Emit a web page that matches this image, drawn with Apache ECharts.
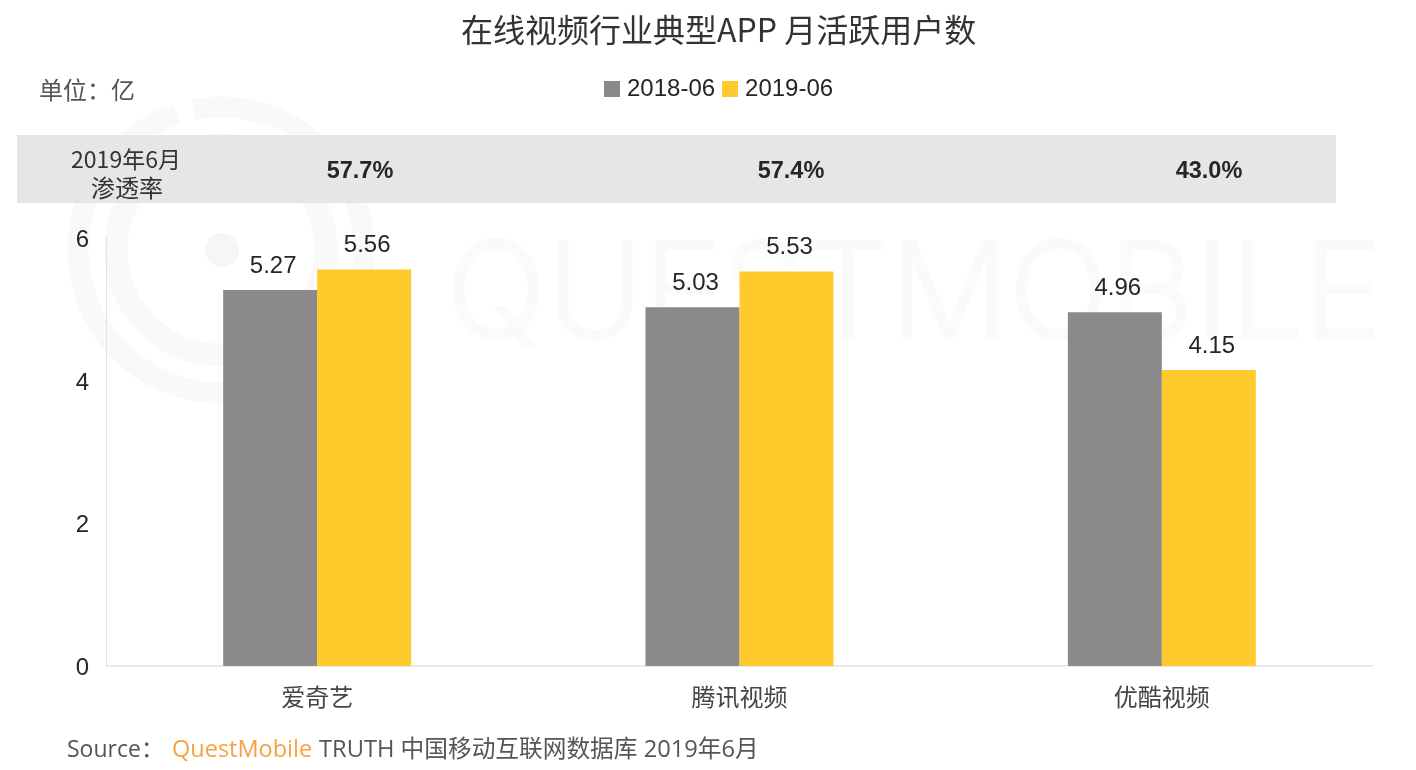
<!DOCTYPE html>
<html>
<head>
    <meta charset="utf-8">
    <title>在线视频行业典型APP 月活跃用户数</title>
    <script src="https://cdn.jsdelivr.net/npm/echarts@6/dist/echarts.min.js"></script>
    <style>
        html, body { margin: 0; padding: 0; background: #fff; }
        #main { width: 1416px; height: 770px; }
    </style>
</head>
<body>
    <div id="main"></div>
    <script>
        var categories = ['爱奇艺', '腾讯视频', '优酷视频'];
        var seriesNames = ['2018-06', '2019-06'];
        var values2018 = [5.27, 5.03, 4.96];
        var values2019 = [5.56, 5.53, 4.15];
        var yTicks = [0, 2, 4, 6];
        var penetration = ['57.7%', '57.4%', '43.0%'];
        var penetrationX = [360, 791, 1209];

        var cjk = '"Noto Sans CJK SC", sans-serif';
        var latin = '"Liberation Sans", Arial, sans-serif';
        var wm = '#f9f9fa';

        var myChart = echarts.init(document.getElementById('main'));

        var graphics = [
            // 水印
            { type: 'arc', silent: true, z: 0, shape: { cx: 221, cy: 250, r: 143, startAngle: -101 * Math.PI / 180, endAngle: 252 * Math.PI / 180 },
              style: { stroke: wm, fill: null, lineWidth: 21 } },
            { type: 'arc', silent: true, z: 0, shape: { cx: 221, cy: 250, r: 105, startAngle: 0, endAngle: Math.PI * 2 },
              style: { stroke: wm, fill: null, lineWidth: 23 } },
            { type: 'circle', silent: true, z: 0, shape: { cx: 222, cy: 250, r: 17 }, style: { fill: '#f6f6f7' } },
            { type: 'text', silent: true, z: 0, x: 446, y: 298, scaleX: 0.986,
              style: { text: 'QUESTMOBILE', fill: '#fafafb', stroke: '#fafafb', lineWidth: 2, font: '300 134px "Inter", sans-serif', textVerticalAlign: 'middle' } },
            // 渗透率
            { type: 'rect', silent: true, z: 1, shape: { x: 17, y: 135, width: 1319, height: 68 }, style: { fill: '#e6e6e6' } },
            { type: 'text', z: 2, x: 126, y: 159,
              style: { text: '2019年6月', fill: '#333', font: '23px ' + cjk, textAlign: 'center', textVerticalAlign: 'middle' } },
            { type: 'text', z: 2, x: 127, y: 188,
              style: { text: '渗透率', fill: '#333', font: '24px ' + cjk, textAlign: 'center', textVerticalAlign: 'middle' } },
            // 单位
            { type: 'text', z: 2, x: 39, y: 90,
              style: { text: '单位：亿', fill: '#555', font: '24px ' + cjk, textVerticalAlign: 'middle' } },
            // 来源
            { type: 'text', z: 2, x: 67, y: 750,
              style: { text: 'Source：', fill: '#555', font: '23px "Open Sans", ' + cjk, textVerticalAlign: 'middle' } },
            { type: 'text', z: 2, x: 172, y: 750,
              style: { text: 'QuestMobile', fill: '#f7a143', font: '23.5px "Open Sans", sans-serif', textVerticalAlign: 'middle' } },
            { type: 'text', z: 2, x: 319, y: 750,
              style: { text: 'TRUTH 中国移动互联网数据库 2019年6月', fill: '#555', font: '23.7px "Open Sans", ' + cjk, textVerticalAlign: 'middle' } }
        ];
        penetration.forEach(function (p, i) {
            graphics.push({ type: 'text', z: 2, x: penetrationX[i], y: 172,
                style: { text: p, fill: '#262626', font: 'bold 23.5px ' + latin, textAlign: 'center', textVerticalAlign: 'middle' } });
        });

        var labelStyle = { show: true, position: 'top', distance: 12, offset: [3, 0], color: '#262626', fontFamily: latin, fontSize: 24 };

        var option = {
            animation: false,
            title: {
                text: '在线视频行业典型APP 月活跃用户数',
                left: 456,
                top: 9,
                textStyle: { color: '#333', fontFamily: cjk, fontWeight: 'normal', fontSize: 32 }
            },
            legend: {
                data: seriesNames,
                top: 72,
                left: 599,
                icon: 'rect',
                itemWidth: 16,
                itemHeight: 16,
                itemGap: 7,
                textStyle: { color: '#262626', fontFamily: latin, fontSize: 24, padding: [0, 0, 0, 2] }
            },
            grid: { left: 106, right: 43, top: 238, bottom: 104 },
            xAxis: {
                type: 'category',
                data: categories,
                axisLine: { lineStyle: { color: '#e3e3e3', width: 1.5 } },
                axisTick: { show: false },
                axisLabel: { color: '#444', fontFamily: cjk, fontSize: 24, margin: 19 }
            },
            yAxis: {
                type: 'value',
                min: 0,
                max: yTicks[yTicks.length - 1],
                interval: 2,
                axisLine: { show: true, lineStyle: { color: '#e3e3e3', width: 1 } },
                axisTick: { show: false },
                splitLine: { show: false },
                axisLabel: {
                    margin: 17,
                    formatter: '{v|{value}}',
                    rich: { v: { color: '#262626', fontFamily: latin, fontSize: 24, padding: [5, 0, 0, 0] } }
                }
            },
            series: [
                { name: seriesNames[0], type: 'bar', data: values2018, barWidth: 94, barGap: 0,
                  itemStyle: { color: '#8a8a8a' }, label: labelStyle },
                { name: seriesNames[1], type: 'bar', data: values2019, barWidth: 94, barGap: 0,
                  itemStyle: { color: '#ffca2c' }, label: labelStyle }
            ],
            graphic: graphics
        };

        option && myChart.setOption(option);
    </script>
</body>
</html>
